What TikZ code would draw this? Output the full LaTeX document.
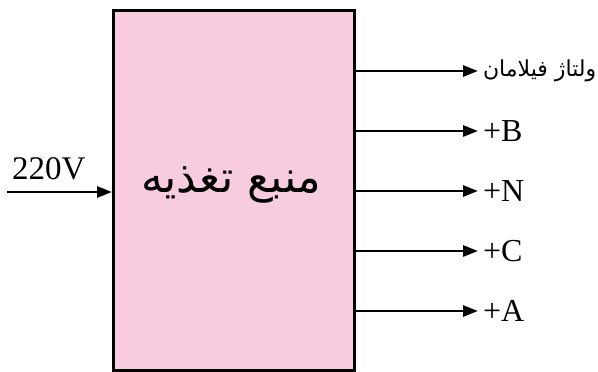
\documentclass[tikz,border=0pt]{standalone}
\usepackage{fontspec}
\setmainfont{Liberation Serif}
\newfontfamily\arabicfont[Script=Arabic]{DejaVu Sans}
\TeXXeTstate=1
\usetikzlibrary{arrows.meta}
\definecolor{boxpink}{HTML}{F7CBE0}
\tikzset{
  mainbox/.style={draw=black, line width=3pt, fill=boxpink, minimum width=241pt, minimum height=360pt, inner sep=0pt},
  sig/.style={line width=2.8pt, -{Triangle[length=15pt,width=11pt]}},
  outlabel/.style={anchor=west, inner sep=0pt, outer xsep=5pt, font=\fontsize{32}{34}\selectfont},
}
\begin{document}
\begin{tikzpicture}[x=1pt,y=-1pt]
\useasboundingbox (0,0) rectangle (598,372);
\node[mainbox] (box) at (234,190) {};
\node[font=\arabicfont\fontsize{44}{48}\selectfont] (title) at (231,185) {\beginR منبع تغذیه\endR};
\node[outlabel, font=\arabicfont\fontsize{22}{25}\selectfont] (lF) at (478,71) {\beginR ولتاژ فیلامان\endR};
\node[outlabel] (lB) at (478,131) {+B};
\node[outlabel] (lN) at (478,191) {+N};
\node[outlabel] (lC) at (478,251) {+C};
\node[outlabel] (lA) at (478,311) {+A};
\foreach \n in {lF,lB,lN,lC,lA}{
  \draw[sig] (box.east |- \n.west) -- (\n.west);
}
\coordinate (in) at (7,192);
\draw[sig] (in) -- (box.west |- in);
\node[anchor=south west, inner sep=0pt, font=\fontsize{33}{35}\selectfont] (v) at (12,180) {220V};
\end{tikzpicture}
\end{document}
